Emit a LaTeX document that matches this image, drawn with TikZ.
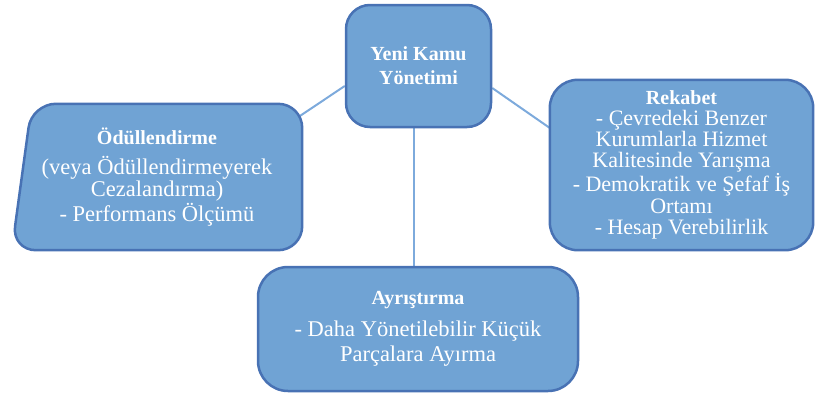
\documentclass[tikz,border=0pt]{standalone}
\usepackage{fontspec}
\setmainfont{LiberationSerif-Regular.ttf}[BoldFont=LiberationSerif-Bold.ttf]
\usetikzlibrary{backgrounds}
\definecolor{kfill}{RGB}{112,163,212}
\definecolor{kline}{RGB}{72,114,180}
\definecolor{klink}{RGB}{125,170,220}

\begin{document}
\begin{tikzpicture}[x=1pt,y=-1pt,
                    box/.style={draw=kline,line width=2.5pt,fill=kfill,rounded corners=24pt,
                    text=white,align=center,inner sep=0pt,font=\fontsize{22.5}{22}\selectfont},
                    txt/.style={text=white,align=center,inner sep=0pt,font=\fontsize{22.5}{22}\selectfont},
                    outline/.style={draw=kline,line width=2.5pt,fill=kfill},
                    link/.style={klink,line width=2pt}
]
\useasboundingbox (0,0) rectangle (816,399);
\node[box,minimum width=145pt,minimum height=122pt,font=\fontsize{20}{24}\selectfont\bfseries] (ctr) at (418.5,66)
     {Yeni Kamu\\Yönetimi};
\node[txt,minimum width=290pt,minimum height=146pt] (odul) at (157,177)
     {{\bfseries\fontsize{20}{22}\selectfont Ödüllendirme}\\[8pt]
      (veya Ödüllendirmeyerek\\Cezalandırma)\\[1pt]- Performans Ölçümü};
\node[txt,minimum width=263pt,minimum height=170pt,font=\fontsize{22}{21}\selectfont] (rek) at (681.5,165)
     {{\bfseries\fontsize{20}{21}\selectfont Rekabet}\\- Çevredeki Benzer\\Kurumlarla Hizmet\\
      Kalitesinde Yarışma\\- Demokratik ve Şefaf İş\\[1pt]Ortamı\\- Hesap Verebilirlik};
\node[box,rounded corners=30pt,minimum width=320pt,minimum height=124pt] (ayr) at (418,329)
     {{\bfseries\fontsize{20}{22}\selectfont Ayrıştırma}\\[10pt]
      - Daha Yönetilebilir Küçük\\[3pt]Parçalara Ayırma};
\begin{scope}[on background layer]
\draw[link] ([yshift=-20pt]ctr.west) -- ([xshift=-5pt,yshift=-14pt]odul.north east);
\draw[link] ([yshift=-22pt]ctr.east) -- ([yshift=37pt]rek.west);
\draw[link] ([xshift=-5pt]ctr.south) -- ([xshift=-5pt]ctr.south |- ayr.north);
\draw[outline,rounded corners=24pt] ([xshift=20pt]odul.north west) -- (odul.north east)
     -- (odul.south east) -- (odul.south west) -- cycle;
\draw[outline,rounded corners=28pt] (rek.north west) -- (rek.north east)
     -- (rek.south east) -- (rek.south west) -- cycle;
\end{scope}
\end{tikzpicture}
\end{document}
